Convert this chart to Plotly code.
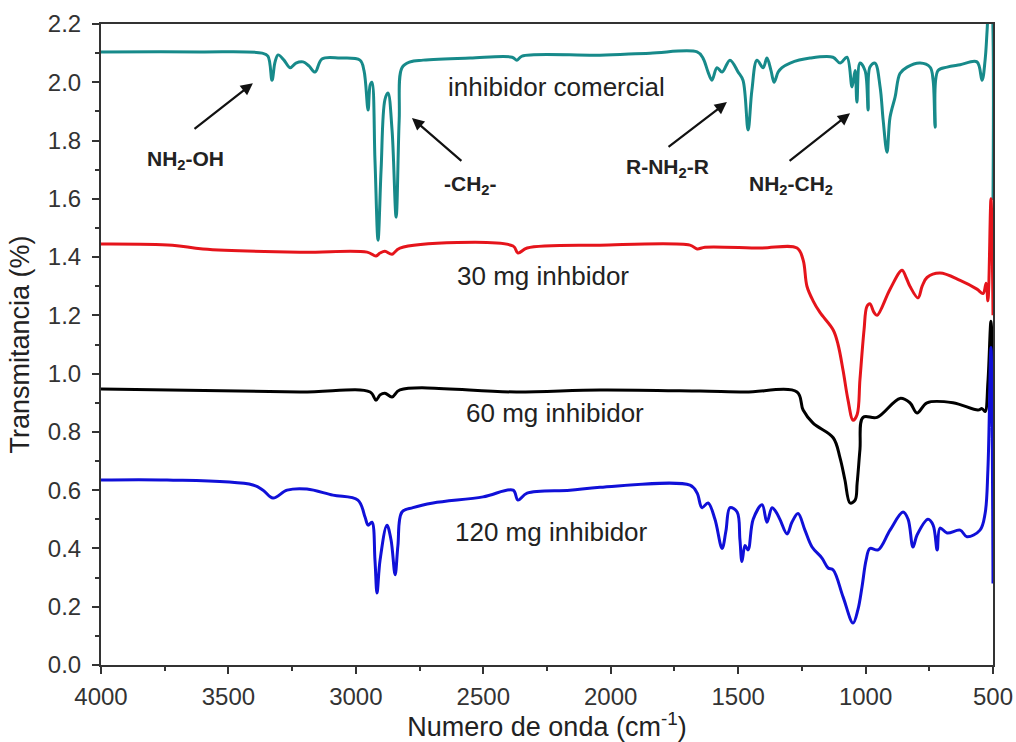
import plotly.graph_objects as go

# ---- data ----
wn_comercial = [4000, 3612, 3368, 3345, 3329, 3317, 3305, 3282, 3258, 3235, 3207, 3184, 3160, 3133, 3062,
                2984, 2968, 2952, 2944, 2937, 2925, 2913, 2901, 2886, 2874, 2858, 2842, 2830, 2819, 2787,
                2736, 2552, 2387, 2368, 2348, 2042, 1846, 1661, 1638, 1618, 1603, 1583, 1563, 1532, 1500,
                1481, 1461, 1446, 1426, 1402, 1387, 1371, 1359, 1343, 1328, 1296, 1218, 1128, 1100, 1073,
                1053, 1041, 1034, 1022, 1002, 990, 983, 963, 943, 931, 916, 904, 884, 865, 837, 786, 747,
                735, 727, 716, 680, 629, 563, 543, 531, 523, 516, 508, 500]
t_comercial = [2.104, 2.104, 2.10, 2.09, 2.007, 2.07, 2.094, 2.076, 2.05, 2.066, 2.07, 2.056, 2.035, 2.08, 2.083,
               2.076, 2.04, 1.905, 1.99, 2.0, 1.733, 1.458, 1.70, 1.94, 1.963, 1.836, 1.537, 1.87, 2.05, 2.07,
               2.076, 2.083, 2.086, 2.076, 2.09, 2.093, 2.10, 2.104, 2.083, 2.035, 2.007, 2.05, 2.035, 2.076, 2.035,
               2.007, 1.836, 1.973, 2.076, 2.05, 2.083, 2.04, 2.0, 2.035, 2.05, 2.066, 2.083, 2.086, 2.066, 2.086,
               1.984, 2.04, 1.932, 2.066, 2.04, 1.905, 2.052, 2.066, 1.984, 1.87, 1.76, 1.88, 1.95, 2.03, 2.052, 2.066, 2.052,
               2.007, 1.846, 2.04, 2.052, 2.06, 2.07, 2.007, 2.076, 2.18, 2.28, 2.30, 1.596]

wn_30mg = [4000, 3720, 3600, 3219, 2956, 2921, 2905, 2886, 2858, 2827, 2383, 2364, 2328, 2042, 1689, 1661,
           1630, 1414, 1269, 1245, 1230, 1206, 1179, 1127, 1108, 1088, 1069, 1049, 1033, 1022, 1006, 995,
           983, 967, 955, 904, 857, 841, 826, 794, 778, 759, 708, 629, 563, 539, 527, 520, 508, 500]
t_30mg = [1.445, 1.441, 1.428, 1.417, 1.417, 1.404, 1.414, 1.42, 1.41, 1.431, 1.438, 1.414, 1.431, 1.441, 1.441, 1.428,
          1.434, 1.431, 1.431, 1.39, 1.30, 1.25, 1.21, 1.15, 1.10, 1.01, 0.91, 0.84, 0.86, 0.98, 1.15, 1.23,
          1.24, 1.21, 1.20, 1.29, 1.355, 1.33, 1.30, 1.26, 1.30, 1.33, 1.345, 1.32, 1.29, 1.275, 1.31, 1.25, 1.6, 1.2]

wn_60mg = [4000, 3219, 2944, 2921, 2905, 2886, 2858, 2827, 2368, 2042, 1650, 1473, 1269, 1245, 1206, 1127,
           1100, 1081, 1061, 1041, 1033, 1022, 1010, 955, 865, 826, 798, 759, 657, 559, 543, 531, 520, 508, 500]
t_60mg = [0.947, 0.937, 0.937, 0.909, 0.927, 0.933, 0.92, 0.944, 0.937, 0.944, 0.94, 0.937, 0.937, 0.875, 0.83, 0.78,
          0.71, 0.635, 0.556, 0.566, 0.625, 0.74, 0.85, 0.85, 0.915, 0.90, 0.865, 0.90, 0.90, 0.875, 0.88, 0.87, 0.97, 1.18, 0.91]

wn_120mg = [4000, 3741, 3404, 3364, 3325, 3270, 3192, 3090, 2992, 2964, 2952, 2937, 2925, 2917, 2905, 2878,
            2862, 2846, 2835, 2819, 2776, 2697, 2501, 2383, 2364, 2328, 2160, 2042, 1689, 1661, 1642, 1618,
            1591, 1563, 1548, 1532, 1504, 1493, 1485, 1473, 1461, 1441, 1406, 1387, 1367, 1351, 1336, 1308,
            1289, 1265, 1238, 1210, 1171, 1147, 1127, 1088, 1049, 1030, 1014, 998, 983, 951, 904, 853, 833,
            814, 798, 755, 735, 719, 708, 680, 629, 602, 551, 531, 520, 508, 500]
t_120mg = [0.635, 0.635, 0.618, 0.60, 0.573, 0.60, 0.604, 0.583, 0.566, 0.508, 0.48, 0.49, 0.36, 0.247, 0.36, 0.48,
           0.43, 0.31, 0.41, 0.525, 0.54, 0.556, 0.577, 0.60, 0.566, 0.59, 0.60, 0.61, 0.617, 0.59, 0.54, 0.556,
           0.50, 0.40, 0.46, 0.54, 0.525, 0.43, 0.355, 0.41, 0.395, 0.50, 0.55, 0.49, 0.54, 0.525, 0.50, 0.45,
           0.49, 0.52, 0.463, 0.405, 0.367, 0.333, 0.326, 0.233, 0.144, 0.19, 0.268, 0.36, 0.40, 0.395, 0.463, 0.525, 0.50,
           0.405, 0.446, 0.50, 0.48, 0.395, 0.47, 0.453, 0.463, 0.44, 0.463, 0.52, 0.67, 1.09, 0.28]

series = [
    ("inhibidor comercial", wn_comercial, t_comercial, "#178A8A"),
    ("30 mg inhbidor", wn_30mg, t_30mg, "#E5141B"),
    ("60 mg inhibidor", wn_60mg, t_60mg, "#000000"),
    ("120 mg inhibidor", wn_120mg, t_120mg, "#1010D8"),
]

x_ticks = [4000, 3500, 3000, 2500, 2000, 1500, 1000, 500]
y_ticks = [0.0, 0.2, 0.4, 0.6, 0.8, 1.0, 1.2, 1.4, 1.6, 1.8, 2.0, 2.2]

# label positions (data coords)
series_labels = [
    ("inhibidor comercial", 2211, 1.984),
    ("30 mg inhbidor", 2266, 1.335),
    ("60 mg inhibidor", 2218, 0.865),
    ("120 mg inhibidor", 2234, 0.456),
]
band_labels = [
    ("NH<sub>2</sub>-OH", 3670, 1.733),
    ("-CH<sub>2</sub>-", 2552, 1.647),
    ("R-NH<sub>2</sub>-R", 1779, 1.706),
    ("NH<sub>2</sub>-CH<sub>2</sub>", 1292, 1.647),
]
# arrows: (head_x, head_y, tail_x, tail_y)
arrows = [
    (3404, 1.997, 3639, 1.836),
    (2780, 1.877, 2580, 1.726),
    (1544, 1.932, 1779, 1.774),
    (1061, 1.894, 1304, 1.726),
]

fig = go.Figure()
for name, xs, ys, col in series:
    fig.add_trace(go.Scatter(x=xs, y=ys, mode="lines", name=name,
                             line=dict(color=col, width=3), line_shape="spline",
                             showlegend=False))

FONT = "Liberation Sans, Arial, sans-serif"
ann = []
for txt, x, y in series_labels:
    ann.append(dict(x=x, y=y, xref="x", yref="y", text=txt, showarrow=False,
                    font=dict(family=FONT, size=26, color="#222")))
for txt, x, y in band_labels:
    ann.append(dict(x=x, y=y, xref="x", yref="y", text="<b>" + txt + "</b>", showarrow=False,
                    font=dict(family=FONT, size=21, color="#222")))
for hx, hy, tx, ty in arrows:
    ann.append(dict(x=hx, y=hy, ax=tx, ay=ty, xref="x", yref="y", axref="x", ayref="y",
                    text="", showarrow=True, arrowhead=2, arrowsize=1.1, arrowwidth=2.2,
                    arrowcolor="#111"))

fig.update_layout(
    width=1016, height=742,
    margin=dict(l=101, r=23, t=24, b=77, autoexpand=False),
    paper_bgcolor="white", plot_bgcolor="white",
    font=dict(family=FONT, color="#333"),
    annotations=ann,
    xaxis=dict(range=[4000, 500], tickvals=x_ticks, ticks="outside", ticklen=7, tickwidth=2,
               tickcolor="#333", showline=True, linecolor="#333", linewidth=2, mirror=True,
               showgrid=False, zeroline=False, tickfont=dict(size=24, color="#333"),
               automargin=False, ticklabelstandoff=2,
               minor=dict(dtick=250, ticks="outside", ticklen=4, tickwidth=2, tickcolor="#333", showgrid=False),
               title=dict(text="Numero de onda (cm<sup>-1</sup>)", font=dict(size=27, color="#222"), standoff=2)),
    yaxis=dict(range=[0, 2.2], tickvals=y_ticks, tickformat=".1f", ticks="outside", ticklen=7, tickwidth=2,
               tickcolor="#333", showline=True, linecolor="#333", linewidth=2, mirror=True,
               showgrid=False, zeroline=False, tickfont=dict(size=24, color="#333"),
               automargin=False, ticklabelstandoff=6,
               minor=dict(dtick=0.1, ticks="outside", ticklen=4, tickwidth=2, tickcolor="#333", showgrid=False),
               title=dict(text="Transmitancia (%)", font=dict(size=27, color="#222"), standoff=10)),
)

fig.write_html("out.html", config={"displayModeBar": False},
               post_script="document.body.style.margin='0';document.body.style.overflow='hidden';")
